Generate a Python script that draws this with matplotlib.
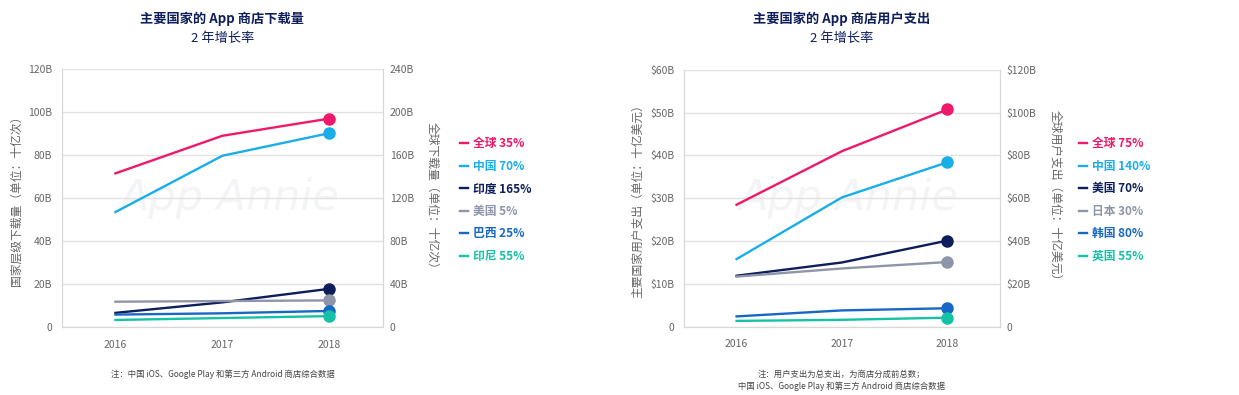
import matplotlib
matplotlib.use("Agg")
import matplotlib.pyplot as plt
from matplotlib.ticker import FuncFormatter

plt.rcParams['font.family'] = ['Noto Sans CJK SC', 'DejaVu Sans']

years = ['2016', '2017', '2018']

# downloads (billions); global is on the right axis
dl_names = ['全球', '中国', '印度', '美国', '巴西', '印尼']
dl_growth = ['35%', '70%', '165%', '5%', '25%', '55%']
dl_global = [143, 178, 194]
dl_china = [53.5, 79.7, 90.2]
dl_india = [6.6, 11.5, 17.8]
dl_us = [11.8, 12.1, 12.4]
dl_brazil = [5.8, 6.4, 7.5]
dl_indonesia = [3.3, 4.2, 5.1]

# consumer spend (billions USD); global is on the right axis
sp_names = ['全球', '中国', '美国', '日本', '韩国', '英国']
sp_growth = ['75%', '140%', '70%', '30%', '80%', '55%']
sp_global = [57, 82, 101.5]
sp_china = [15.8, 30.2, 38.4]
sp_us = [11.9, 15.0, 20.1]
sp_japan = [11.7, 13.6, 15.1]
sp_korea = [2.4, 3.8, 4.3]
sp_uk = [1.35, 1.6, 2.1]

colors = ['#F0186A', '#19AEE8', '#0E1E5B', '#8F95A9', '#1768C4', '#16C2A6']
navy = '#0E1E5B'
grey_txt = '#666666'
grid_c = '#E2E2E2'

fig = plt.figure(figsize=(12.39, 3.95), dpi=100)


def draw(rect, glob, series, names, growth, ylim, fmt, ylab, ylab2,
         title, notes, leg_x):
    ax = fig.add_axes(rect)
    ax2 = ax.twinx()
    x = range(len(years))
    handles = []
    # global on right axis
    h, = ax2.plot(x, glob, color=colors[0], lw=1.7, label=names[0] + ' ' + growth[0], zorder=3)
    ax2.plot(x[-1], glob[-1], 'o', color=colors[0], ms=8, zorder=4)
    handles.append(h)
    for i, s in enumerate(series):
        c = colors[i + 1]
        h, = ax.plot(x, s, color=c, lw=1.7, label=names[i + 1] + ' ' + growth[i + 1], zorder=3)
        ax.plot(x[-1], s[-1], 'o', color=c, ms=8, zorder=4)
        handles.append(h)

    ax.set_xlim(-0.5, 2.5)
    ax.set_ylim(0, ylim)
    ax2.set_ylim(0, ylim * 2)
    ax.set_yticks([ylim / 6 * k for k in range(7)])
    ax2.set_yticks([ylim / 3 * k for k in range(7)])
    ax.yaxis.set_major_formatter(FuncFormatter(fmt))
    ax2.yaxis.set_major_formatter(FuncFormatter(fmt))
    ax.set_xticks(list(x))
    ax.set_xticklabels(years)
    ax.grid(axis='y', color=grid_c, lw=1)
    ax.set_axisbelow(True)
    for a in (ax, ax2):
        a.tick_params(length=0, labelsize=7.5, labelcolor=grey_txt)
        a.spines['top'].set_visible(False)
        for sp in ('left', 'right', 'bottom'):
            a.spines[sp].set_color('#D8D8D8')
    ax.tick_params(axis='y', pad=7)
    ax2.tick_params(axis='y', pad=5)
    ax.tick_params(axis='x', pad=9)
    ax.set_ylabel(ylab, fontsize=8.5, color=grey_txt, labelpad=4)
    ax2.set_ylabel(ylab2, fontsize=8.5, color=grey_txt, rotation=270, labelpad=18)

    ax.text(0.52, 0.5, 'App Annie', transform=ax.transAxes, ha='center', va='center',
            fontsize=31, style='italic', color='#F3F4F6', family='Liberation Sans Narrow',
            zorder=0)

    cx = rect[0] + rect[2] / 2
    fig.text(cx, 0.953, title, ha='center', va='center', fontsize=9.5,
             fontweight='bold', color=navy)
    fig.text(cx, 0.903, '2 年增长率', ha='center', va='center', fontsize=9.5, color=navy)
    for k, n in enumerate(notes):
        fig.text(cx, 0.052 - k * 0.031, n,
                 ha='center', va='center', fontsize=6, color='#444444')

    fig.legend(handles=handles, loc='upper left', bbox_to_anchor=(leg_x, 0.652),
               frameon=False, handlelength=0.7, handletextpad=0.4,
               labelspacing=0.8, borderpad=0, borderaxespad=0,
               prop={'size': 8.5, 'weight': 'bold'}, labelcolor='linecolor')
    return ax


def fmt_dl(v, pos):
    return '0' if v == 0 else '%dB' % v


def fmt_sp(v, pos):
    return '0' if v == 0 else '$%dB' % v


draw([0.050, 0.172, 0.259, 0.653], dl_global,
     [dl_china, dl_india, dl_us, dl_brazil, dl_indonesia],
     dl_names, dl_growth, 120, fmt_dl,
     '国家层级下载量（单位：十亿次）', '全球下载量（单位：十亿次）',
     '主要国家的 App 商店下载量',
     ['注：中国 iOS、Google Play 和第三方 Android 商店综合数据'], 0.371)

draw([0.552, 0.173, 0.255, 0.650], sp_global,
     [sp_china, sp_us, sp_japan, sp_korea, sp_uk],
     sp_names, sp_growth, 60, fmt_sp,
     '主要国家用户支出（单位：十亿美元）', '全球用户支出（单位：十亿美元）',
     '主要国家的 App 商店用户支出',
     ['注：用户支出为总支出，为商店分成前总数；', '中国 iOS、Google Play 和第三方 Android 商店综合数据'],
     0.871)

fig.savefig('out.png', dpi=100)
